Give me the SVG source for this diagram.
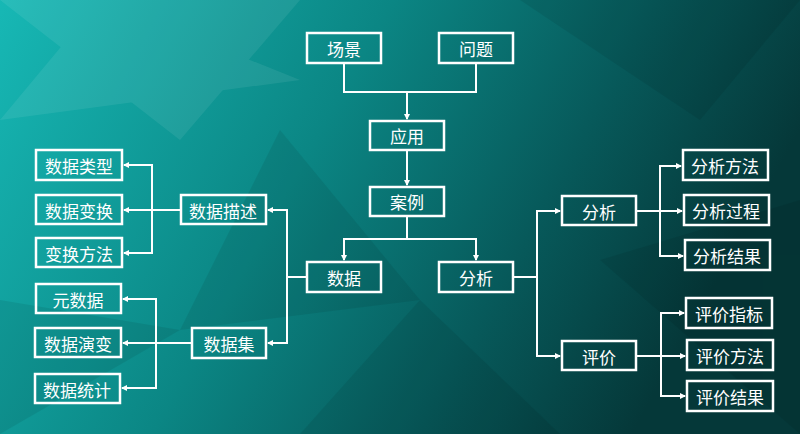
<svg xmlns="http://www.w3.org/2000/svg" width="800" height="434" viewBox="0 0 800 434">
<defs>
<linearGradient id="bg" x1="0" y1="0" x2="1" y2="0.3">
<stop offset="0" stop-color="#17b8b5"/>
<stop offset="0.45" stop-color="#0b8684"/>
<stop offset="0.75" stop-color="#075a5b"/>
<stop offset="1" stop-color="#053839"/>
</linearGradient>
<marker id="ar" viewBox="0 0 6 6" refX="5" refY="3" markerWidth="3" markerHeight="3" orient="auto"><path d="M0,0L6,3L0,6z" fill="#fff"/></marker>
<style>
.n rect{fill:none;stroke:#fff;stroke-width:2.5}
.n text{fill:#fff;font-family:"Noto Sans CJK SC",sans-serif;font-size:17px;text-anchor:middle;dominant-baseline:central}
#c path{fill:none;stroke:#fff;stroke-width:2}
.a{marker-end:url(#ar)}
</style>
</defs>
<rect width="800" height="434" fill="url(#bg)"/>
<g opacity="0.07">
<polygon points="0,0 300,0 180,140" fill="#fff"/>
<polygon points="280,130 420,300 180,330" fill="#000"/>
<polygon points="420,300 560,434 300,434" fill="#000"/>
<polygon points="520,0 800,0 700,120" fill="#000"/>
<polygon points="600,260 800,200 800,434" fill="#000"/>
<polygon points="0,300 180,330 0,434" fill="#000"/>
<polygon points="100,0 300,80 0,120" fill="#fff"/>
</g>
<g id="c">
<path d="M344,63V92H476V63M407,92V119" class="a"/>
<path d="M407,150V185" class="a"/>
<path d="M407,216V239H344V260" class="a"/>
<path d="M407,239H476V260" class="a"/>
<path d="M513,277H537V211H560" class="a"/>
<path d="M537,277V356H560" class="a"/>
<path d="M636,211H660V166H681" class="a"/>
<path d="M660,211H682" class="a"/>
<path d="M660,211V256H683" class="a"/>
<path d="M636,356H661V313H684" class="a"/>
<path d="M661,356H685" class="a"/>
<path d="M661,356V396H685" class="a"/>
<path d="M307,277H287V210H268" class="a"/>
<path d="M287,277V343H268" class="a"/>
<path d="M181,210H152V165H124" class="a"/>
<path d="M152,210H124" class="a"/>
<path d="M152,210V253H124" class="a"/>
<path d="M192,343H156V299H123" class="a"/>
<path d="M156,343H123" class="a"/>
<path d="M156,343V388H122" class="a"/>
</g>
<g id="n1" class="n"><rect x="307" y="33" width="74" height="30"/><text x="344" y="48">场景</text></g>
<g id="n2" class="n"><rect x="439" y="33" width="74" height="30"/><text x="476" y="48">问题</text></g>
<g id="n3" class="n"><rect x="370" y="121" width="74" height="29"/><text x="407" y="135">应用</text></g>
<g id="n4" class="n"><rect x="370" y="187" width="74" height="29"/><text x="407" y="201">案例</text></g>
<g id="n5" class="n"><rect x="307" y="262" width="74" height="30"/><text x="344" y="277">数据</text></g>
<g id="n6" class="n"><rect x="439" y="262" width="74" height="30"/><text x="476" y="277">分析</text></g>
<g id="n7" class="n"><rect x="562" y="196" width="74" height="29"/><text x="599" y="211">分析</text></g>
<g id="n8" class="n"><rect x="562" y="341" width="74" height="29"/><text x="599" y="356">评价</text></g>
<g id="n9" class="n"><rect x="683" y="150" width="85" height="30"/><text x="725" y="165">分析方法</text></g>
<g id="n10" class="n"><rect x="684" y="195" width="85" height="30"/><text x="726" y="210">分析过程</text></g>
<g id="n11" class="n"><rect x="685" y="240" width="85" height="30"/><text x="727" y="255">分析结果</text></g>
<g id="n12" class="n"><rect x="686" y="298" width="86" height="30"/><text x="729" y="313">评价指标</text></g>
<g id="n13" class="n"><rect x="687" y="340" width="86" height="30"/><text x="730" y="355">评价方法</text></g>
<g id="n14" class="n"><rect x="687" y="381" width="86" height="30"/><text x="730" y="396">评价结果</text></g>
<g id="n15" class="n"><rect x="181" y="195" width="85" height="29"/><text x="223" y="210">数据描述</text></g>
<g id="n16" class="n"><rect x="192" y="328" width="74" height="30"/><text x="229" y="343">数据集</text></g>
<g id="n17" class="n"><rect x="36" y="150" width="86" height="30"/><text x="79" y="165">数据类型</text></g>
<g id="n18" class="n"><rect x="36" y="195" width="86" height="29"/><text x="79" y="210">数据变换</text></g>
<g id="n19" class="n"><rect x="36" y="238" width="86" height="29"/><text x="79" y="253">变换方法</text></g>
<g id="n20" class="n"><rect x="36" y="284" width="85" height="29"/><text x="78" y="299">元数据</text></g>
<g id="n21" class="n"><rect x="35" y="328" width="86" height="29"/><text x="78" y="343">数据演变</text></g>
<g id="n22" class="n"><rect x="35" y="374" width="85" height="29"/><text x="77" y="389">数据统计</text></g>
</svg>
